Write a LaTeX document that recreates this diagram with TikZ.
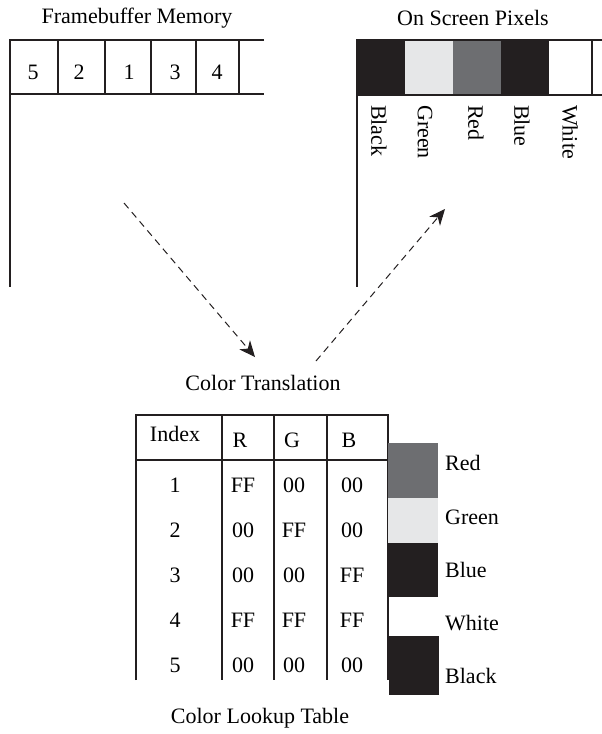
\documentclass[tikz,border=0pt]{standalone}
\usepackage{fontspec}
\setmainfont{Liberation Serif}
\usetikzlibrary{arrows.meta}
\definecolor{ink}{HTML}{231F20}
\definecolor{midgray}{HTML}{6D6E71}
\definecolor{lightgray}{HTML}{E6E7E8}
\begin{document}
\begin{tikzpicture}[x=1pt,y=-1pt,
  txt/.style={inner sep=0pt, font=\fontsize{22}{26}\selectfont},
  rule/.style={draw=ink, line width=1.2pt},
  flow/.style={draw=ink, line width=1pt, dash pattern=on 7pt off 5pt, -{Stealth[length=16pt,width=14pt,inset=5pt]}}
]
\useasboundingbox (0,0) rectangle (602,734);
% titles
\node[txt] (fbtitle) at (137,18) {Framebuffer Memory};
\node[txt] (ostitle) at (473,18) {On Screen Pixels};
% framebuffer
\draw[rule] (264,40) -- (10,40) -- (10,287);
\draw[rule] (10,94) -- (264,94);
\foreach \x in {58,105,151,196,239} \draw[rule] (\x,40) -- (\x,94);
\node[txt] (fb1) at (33,72) {5};
\node[txt] (fb2) at (79,72) {2};
\node[txt] (fb3) at (129,72) {1};
\node[txt] (fb4) at (175,72) {3};
\node[txt] (fb5) at (217,72) {4};
% on-screen pixels
\fill[ink] (357,40) rectangle (405,95);
\fill[lightgray] (405,40) rectangle (453,95);
\fill[midgray] (453,40) rectangle (501,95);
\fill[ink] (501,40) rectangle (549,95);
\draw[rule] (602,40) -- (357,40) -- (357,287);
\draw[rule] (357,95) -- (602,95);
\draw[rule] (592,40) -- (592,95);
\node[txt, rotate=-90, anchor=west] (lb1) at (379,105) {Black};
\node[txt, rotate=-90, anchor=west] (lb2) at (425,105) {Green};
\node[txt, rotate=-90, anchor=west] (lb3) at (476,105) {Red};
\node[txt, rotate=-90, anchor=west] (lb4) at (522,105) {Blue};
\node[txt, rotate=-90, anchor=west] (lb5) at (570,105) {White};
% arrows
\coordinate (a1s) at (124,203);
\coordinate (a1e) at (255,357);
\coordinate (a2s) at (316,361);
\coordinate (a2e) at (445,209);
\draw[flow] (a1s) -- (a1e);
\draw[flow] (a2s) -- (a2e);
\node[txt] (trans) at (263,383) {Color Translation};
% table
\draw[rule] (136,680) -- (136,415) -- (388,415) -- (388,680);
\draw[rule] (136,460) -- (388,460);
\foreach \x in {222,274,327} \draw[rule] (\x,415) -- (\x,680);
\node[txt] (hI) at (175,434) {Index};
\node[txt] (hR) at (240,440) {R};
\node[txt] (hG) at (292,440) {G};
\node[txt] (hB) at (349,440) {B};
\node[txt] (i1) at (175,485) {1};
\node[txt] (r1) at (243,485) {FF};
\node[txt] (g1) at (294,485) {00};
\node[txt] (b1) at (352,485) {00};
\node[txt] (i2) at (175,530) {2};
\node[txt] (r2) at (243,530) {00};
\node[txt] (g2) at (294,530) {FF};
\node[txt] (b2) at (352,530) {00};
\node[txt] (i3) at (175,575) {3};
\node[txt] (r3) at (243,575) {00};
\node[txt] (g3) at (294,575) {00};
\node[txt] (b3) at (352,575) {FF};
\node[txt] (i4) at (175,620) {4};
\node[txt] (r4) at (243,620) {FF};
\node[txt] (g4) at (294,620) {FF};
\node[txt] (b4) at (352,620) {FF};
\node[txt] (i5) at (175,665) {5};
\node[txt] (r5) at (243,665) {00};
\node[txt] (g5) at (294,665) {00};
\node[txt] (b5) at (352,665) {00};
% swatches
\fill[midgray] (388,443) rectangle (438,498);
\fill[lightgray] (388,498) rectangle (438,543);
\fill[ink] (388,543) rectangle (438,597);
\fill[ink] (389,636) rectangle (439,695);
\node[txt, anchor=west] (sw1) at (445,463) {Red};
\node[txt, anchor=west] (sw2) at (445,517) {Green};
\node[txt, anchor=west] (sw3) at (445,570) {Blue};
\node[txt, anchor=west] (sw4) at (445,623) {White};
\node[txt, anchor=west] (sw5) at (445,676) {Black};
\node[txt] (lut) at (260,718) {Color Lookup Table};
\end{tikzpicture}
\end{document}
